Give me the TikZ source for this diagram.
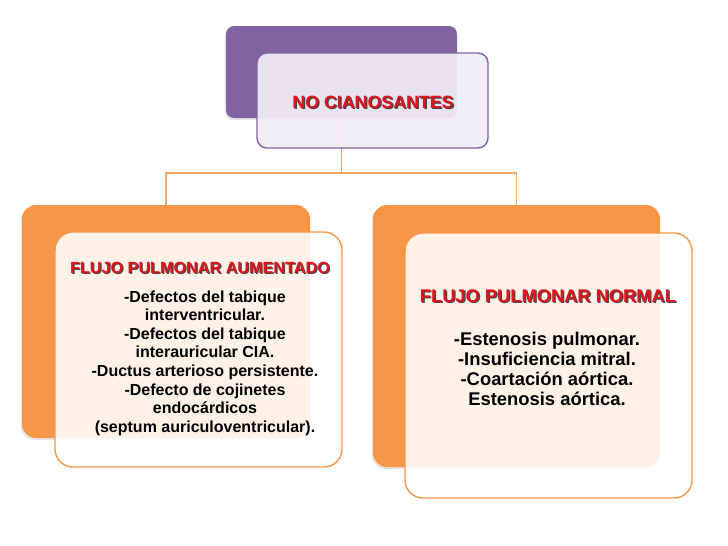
\documentclass[tikz,border=0pt]{standalone}
\usepackage{fontspec}
\setmainfont{Liberation Sans}
\usepackage{xcolor}
\usetikzlibrary{positioning, calc, shadows}

\definecolor{orangeacc}{HTML}{F79646}
\definecolor{purpleacc}{HTML}{8064A2}
\definecolor{lavfill}{HTML}{F0EDF5}
\definecolor{linkcol}{HTML}{F3A66B}
\definecolor{titlered}{HTML}{E2141E}

\begin{document}
\begin{tikzpicture}[
    x=1pt, y=-1pt,
    backbox/.style={rectangle, minimum width=#1, rounded corners=14pt, inner sep=0pt,
        drop shadow={opacity=0.2, shadow xshift=-1.5pt, shadow yshift=-2pt}},
    frontbox/.style={rectangle, draw, line width=1.4pt, rounded corners=18pt, inner sep=0pt, fill opacity=0.88},
    title/.style={font=\bfseries\fontsize{#1}{#1}\selectfont, text=titlered},
    shade/.style={font=\bfseries\fontsize{#1}{#1}\selectfont, text=black, text opacity=0.7},
    body/.style 2 args={align=center, font=\bfseries\fontsize{#1}{#2}\selectfont},
    link/.style={draw=linkcol, line width=1.6pt},
]
\useasboundingbox (0,0) rectangle (728,546);

% Top: back box
\node[backbox=231pt, minimum height=92pt, fill=purpleacc, rounded corners=8pt] (topback) at (341.5, 72) {};

% Children: back boxes
\node[backbox=288pt, minimum height=233pt, fill=orangeacc] (leftback) at (166, 321.5) {};
\node[backbox=287pt, minimum height=262pt, fill=orangeacc] (rightback) at (516.5, 336) {};

% Connectors
\coordinate (split) at ($(topback.south)+(0,55)$);
\draw[link] (topback.south) -- (split);
\draw[link] (split) -| (leftback.north);
\draw[link] (split) -| (rightback.north);

% Top: front box
\node[frontbox, draw=purpleacc, fill=lavfill, fill opacity=0.93, rounded corners=10pt, minimum width=231pt, minimum height=95pt] (topfront) at (372.5, 100.5) {};
\node[shade=17.8, xshift=1.3pt, yshift=-1.3pt] (topshade) at (373, 102) {NO CIANOSANTES};
\node[title=17.8] (toptitle) at (373, 102) {NO CIANOSANTES};

% Left: front box
\node[frontbox, draw=orangeacc, fill=white, minimum width=287pt, minimum height=235pt] (leftfront) at (198.5, 349.5) {};
\node[shade=16.2, xshift=1.2pt, yshift=-1.2pt] (leftshade) at (200, 268) {FLUJO PULMONAR AUMENTADO};
\node[title=16.2] (lefttitle) at (200, 268) {FLUJO PULMONAR AUMENTADO};
\node[body={16}{18.6}] (leftbody) at (205, 363) {-Defectos del tabique\\ interventricular.\\ -Defectos del tabique\\ interauricular CIA.\\ -Ductus arterioso persistente.\\ -Defecto de cojinetes\\ endocárdicos\\ (septum auriculoventricular).};

% Right: front box
\node[frontbox, draw=orangeacc, fill=white, minimum width=287pt, minimum height=265pt] (rightfront) at (548.5, 365.5) {};
\node[shade=18.3, xshift=1.3pt, yshift=-1.3pt] (rightshade) at (548, 296) {FLUJO PULMONAR NORMAL};
\node[title=18.3] (righttitle) at (548, 296) {FLUJO PULMONAR NORMAL};
\node[body={18.4}{20}] (rightbody) at (547, 369) {-Estenosis pulmonar.\\ -Insuficiencia mitral.\\ -Coartación aórtica.\\ Estenosis aórtica.};

\end{tikzpicture}
\end{document}
